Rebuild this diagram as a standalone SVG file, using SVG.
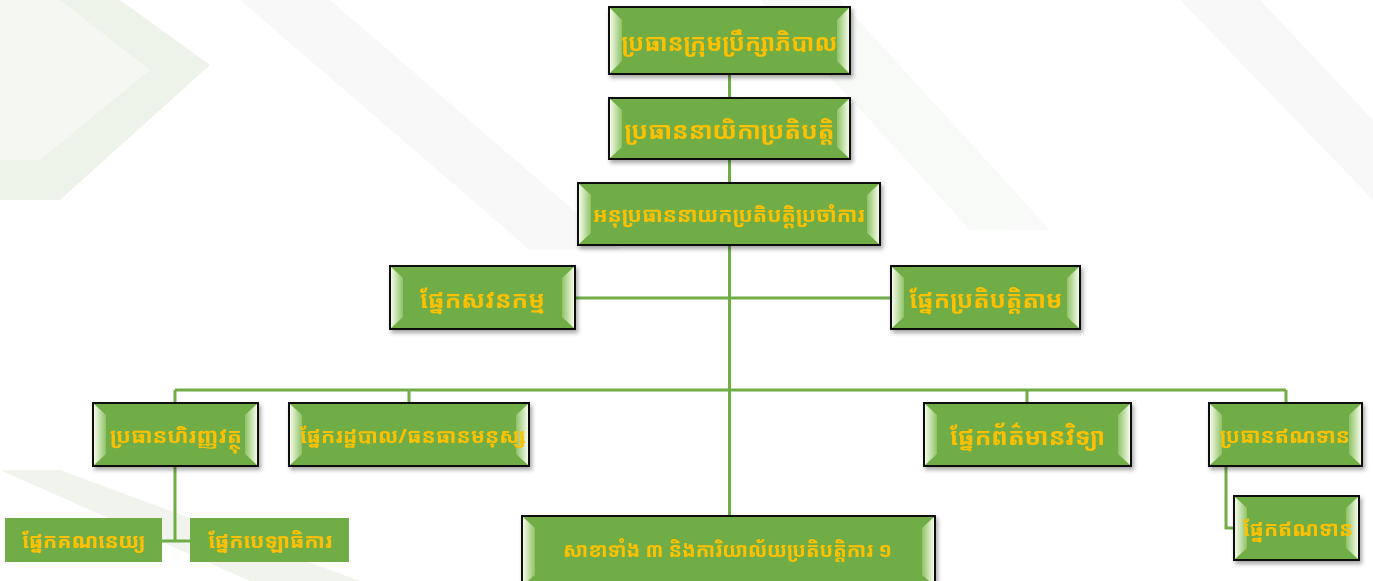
<svg xmlns="http://www.w3.org/2000/svg" width="1373" height="581" viewBox="0 0 1373 581">
<defs>
<style>
.box{fill:#70ad47;stroke:#111;stroke-width:2}
.flat{fill:#70ad47}
.bl{fill:url(#bevL)}
.br{fill:url(#bevR)}
.t{font-family:"Noto Sans Khmer","Noto Sans","DejaVu Sans",sans-serif;font-weight:bold;font-size:20px;fill:#ffc000;text-anchor:middle;dominant-baseline:central}
.tm{font-size:21px}
.tb{font-size:24px}
.c{fill:none;stroke:#70ad47;stroke-width:3}
</style>
<linearGradient id="bevL" x1="0" y1="0" x2="1" y2="0"><stop offset="0" stop-color="#f4fbe9"/><stop offset="1" stop-color="#8fc266"/></linearGradient>
<linearGradient id="bevR" x1="0" y1="0" x2="1" y2="0"><stop offset="0" stop-color="#8fc266"/><stop offset="1" stop-color="#f4fbe9"/></linearGradient>
<filter id="sh" x="-10%" y="-20%" width="130%" height="150%"><feDropShadow dx="2" dy="3" stdDeviation="2" flood-color="#000" flood-opacity="0.35"/></filter>
</defs>
<rect width="1373" height="581" fill="#ffffff"/>
<g id="background" opacity="0.6">
<polygon points="0,0 120,0 210,65 60,200 0,200" fill="#e3ecdd"/>
<polygon points="0,0 60,0 150,70 40,160 0,160" fill="#eef3ea"/>
<polygon points="240,0 330,0 620,250 530,250" fill="#f2f4f2"/>
<polygon points="760,0 840,0 1050,230 970,230" fill="#f4f6f4"/>
<polygon points="1180,0 1260,0 1373,120 1373,200" fill="#f2f4f2"/>
<polygon points="0,470 60,470 360,581 250,581" fill="#e6ede1"/>
</g>
<g id="connectors">
<path class="c" d="M729.5,74 V516"/>
<path class="c" d="M575,298 H891"/>
<path class="c" d="M175,390 H1286"/>
<path class="c" d="M175,390 V403 M409,390 V403 M1027,390 V403 M1286,390 V403"/>
<path class="c" d="M175,466 V541 M162,541 H190"/>
<path class="c" d="M1226,466 V528 H1234"/>
</g>
<g id="n1" filter="url(#sh)">
<rect class="box" x="609" y="7" width="241" height="67"/>
<polygon class="bl" points="610,8 622,20 622,61 610,73"/><polygon class="br" points="849,8 837,20 837,61 849,73"/>
<text class="t tb" x="729.5" y="41" textLength="216" lengthAdjust="spacingAndGlyphs">ប្រធានក្រុមប្រឹក្សាភិបាល</text>
</g>
<g id="n2" filter="url(#sh)">
<rect class="box" x="609" y="98" width="241" height="61"/>
<polygon class="bl" points="610,99 622,110 622,147 610,158"/><polygon class="br" points="849,99 837,110 837,147 849,158"/>
<text class="t tb" x="729.5" y="129" textLength="210" lengthAdjust="spacingAndGlyphs">ប្រធាននាយិកាប្រតិបត្តិ</text>
</g>
<g id="n3" filter="url(#sh)">
<rect class="box" x="578" y="183" width="302" height="62"/>
<polygon class="bl" points="579,184 591,195 591,233 579,244"/><polygon class="br" points="879,184 867,195 867,233 879,244"/>
<text class="t tm" x="729" y="214" textLength="272" lengthAdjust="spacingAndGlyphs">អនុប្រធាននាយកប្រតិបត្តិប្រចាំការ</text>
</g>
<g id="n4" filter="url(#sh)">
<rect class="box" x="390" y="266" width="185" height="63"/>
<polygon class="bl" points="391,267 403,278 403,317 391,328"/><polygon class="br" points="574,267 562,278 562,317 574,328"/>
<text class="t tb" x="482.5" y="298" textLength="125" lengthAdjust="spacingAndGlyphs">ផ្នែកសវនកម្ម</text>
</g>
<g id="n5" filter="url(#sh)">
<rect class="box" x="891" y="266" width="189" height="63"/>
<polygon class="bl" points="892,267 904,278 904,317 892,328"/><polygon class="br" points="1079,267 1067,278 1067,317 1079,328"/>
<text class="t tb" x="986" y="298" textLength="153" lengthAdjust="spacingAndGlyphs">ផ្នែកប្រតិបត្តិតាម</text>
</g>
<g id="n6" filter="url(#sh)">
<rect class="box" x="93" y="403" width="165" height="63"/>
<polygon class="bl" points="94,404 106,415 106,454 94,465"/><polygon class="br" points="257,404 245,415 245,454 257,465"/>
<text class="t tm" x="176" y="435" textLength="132" lengthAdjust="spacingAndGlyphs">ប្រធានហិរញ្ញវត្ថុ</text>
</g>
<g id="n7" filter="url(#sh)">
<rect class="box" x="289" y="403" width="240" height="63"/>
<polygon class="bl" points="290,404 302,415 302,454 290,465"/><polygon class="br" points="528,404 516,415 516,454 528,465"/>
<text class="t" x="413" y="435" textLength="226" lengthAdjust="spacingAndGlyphs">ផ្នែករដ្ឋបាល/ធនធានមនុស្ស</text>
</g>
<g id="n8" filter="url(#sh)">
<rect class="box" x="924" y="403" width="207" height="63"/>
<polygon class="bl" points="925,404 937,415 937,454 925,465"/><polygon class="br" points="1130,404 1118,415 1118,454 1130,465"/>
<text class="t tb" x="1027.5" y="435" textLength="155" lengthAdjust="spacingAndGlyphs">ផ្នែកព័ត៌មានវិទ្យា</text>
</g>
<g id="n9" filter="url(#sh)">
<rect class="box" x="1209" y="403" width="153" height="63"/>
<polygon class="bl" points="1210,404 1222,415 1222,454 1210,465"/><polygon class="br" points="1361,404 1349,415 1349,454 1361,465"/>
<text class="t tm" x="1285" y="435" textLength="130" lengthAdjust="spacingAndGlyphs">ប្រធានឥណទាន</text>
</g>
<g id="n10">
<rect class="flat" x="5" y="518" width="157" height="44"/>
<text class="t" x="83.5" y="540" textLength="123" lengthAdjust="spacingAndGlyphs">ផ្នែកគណនេយ្យ</text>
</g>
<g id="n11">
<rect class="flat" x="190" y="518" width="159" height="44"/>
<text class="t" x="270" y="540" textLength="124" lengthAdjust="spacingAndGlyphs">ផ្នែកបេឡាធិការ</text>
</g>
<g id="n12" filter="url(#sh)">
<rect class="box" x="522" y="516" width="413" height="70"/>
<polygon class="bl" points="523,517 535,528 535,575 523,585"/><polygon class="br" points="934,517 922,528 922,575 934,585"/>
<text class="t" x="727.5" y="549" textLength="329" lengthAdjust="spacingAndGlyphs">សាខាទាំង ៣ និងការិយាល័យប្រតិបត្តិការ ១</text>
</g>
<g id="n13" filter="url(#sh)">
<rect class="box" x="1234" y="496" width="125" height="64"/>
<polygon class="bl" points="1235,497 1247,508 1247,548 1235,559"/><polygon class="br" points="1358,497 1346,508 1346,548 1358,559"/>
<text class="t tm" x="1298" y="528" textLength="110" lengthAdjust="spacingAndGlyphs">ផ្នែកឥណទាន</text>
</g>
</svg>
